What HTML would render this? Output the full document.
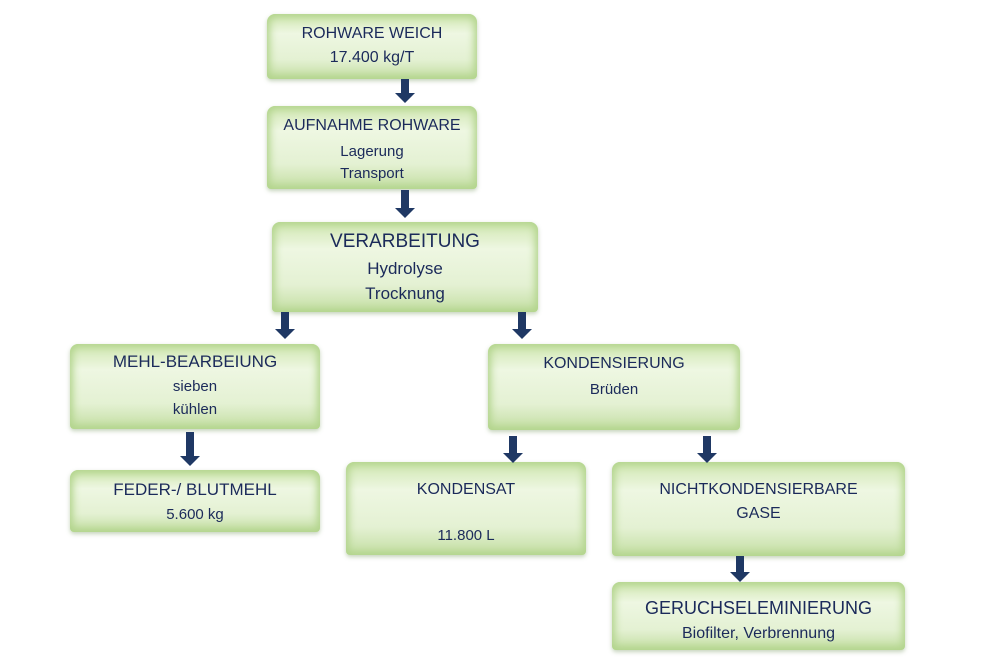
<!DOCTYPE html>
<html><head><meta charset="utf-8"><style>
body{margin:0;width:991px;height:660px;background:#fff;position:relative;overflow:hidden;font-family:"Liberation Sans",sans-serif;color:#1b2a5a}
.b{position:absolute;box-sizing:border-box;background:linear-gradient(180deg,#cfe6b0 0%,#eef7e2 30%,#e4f1d3 70%,#c3dea2 100%);box-shadow:inset 0 0 8px 3px #b2d48c,0 2px 4px rgba(90,130,60,.35);border-radius:8px 8px 4px 4px}
.t{position:absolute;left:0;right:0;text-align:center;font-size:16px;line-height:20px;white-space:nowrap}
.a{position:absolute;width:8px;background:#1f3864}
.a:after{content:"";position:absolute;left:-6px;bottom:-9px;border-left:10px solid transparent;border-right:10px solid transparent;border-top:10px solid #1f3864}
</style></head><body>
<div class="b" style="left:267px;top:14px;width:210px;height:65px"><div class="t" style="top:10px">ROHWARE WEICH</div><div class="t" style="top:34px">17.400 kg/T</div></div>
<div class="b" style="left:267px;top:106px;width:210px;height:83px"><div class="t" style="top:10px">AUFNAHME ROHWARE</div><div class="t" style="top:36px;font-size:15px">Lagerung</div><div class="t" style="top:58px;font-size:15px">Transport</div></div>
<div class="b" style="left:272px;top:222px;width:266px;height:90px"><div class="t" style="top:10px;font-size:19px">VERARBEITUNG</div><div class="t" style="top:37px;font-size:17px">Hydrolyse</div><div class="t" style="top:62px;font-size:17px">Trocknung</div></div>
<div class="b" style="left:70px;top:344px;width:250px;height:85px"><div class="t" style="top:8px;font-size:17px">MEHL-BEARBEIUNG</div><div class="t" style="top:33px;font-size:15px">sieben</div><div class="t" style="top:56px;font-size:15px">kühlen</div></div>
<div class="b" style="left:488px;top:344px;width:252px;height:86px"><div class="t" style="top:10px">KONDENSIERUNG</div><div class="t" style="top:36px;font-size:15px">Brüden</div></div>
<div class="b" style="left:70px;top:470px;width:250px;height:62px"><div class="t" style="top:10px;font-size:17px">FEDER-/ BLUTMEHL</div><div class="t" style="top:35px;font-size:15px">5.600 kg</div></div>
<div class="b" style="left:346px;top:462px;width:240px;height:93px"><div class="t" style="top:18px">KONDENSAT</div><div class="t" style="top:64px;font-size:15px">11.800 L</div></div>
<div class="b" style="left:612px;top:462px;width:293px;height:94px"><div class="t" style="top:18px">NICHTKONDENSIERBARE</div><div class="t" style="top:42px">GASE</div></div>
<div class="b" style="left:612px;top:582px;width:293px;height:68px"><div class="t" style="top:16px;font-size:18px">GERUCHSELEMINIERUNG</div><div class="t" style="top:42px">Biofilter, Verbrennung</div></div>
<div class="a" style="left:401px;top:79px;height:15px"></div>
<div class="a" style="left:401px;top:190px;height:19px"></div>
<div class="a" style="left:281px;top:312px;height:18px"></div>
<div class="a" style="left:518px;top:312px;height:18px"></div>
<div class="a" style="left:186px;top:432px;height:25px"></div>
<div class="a" style="left:509px;top:436px;height:18px"></div>
<div class="a" style="left:703px;top:436px;height:18px"></div>
<div class="a" style="left:736px;top:556px;height:17px"></div>
</body></html>
